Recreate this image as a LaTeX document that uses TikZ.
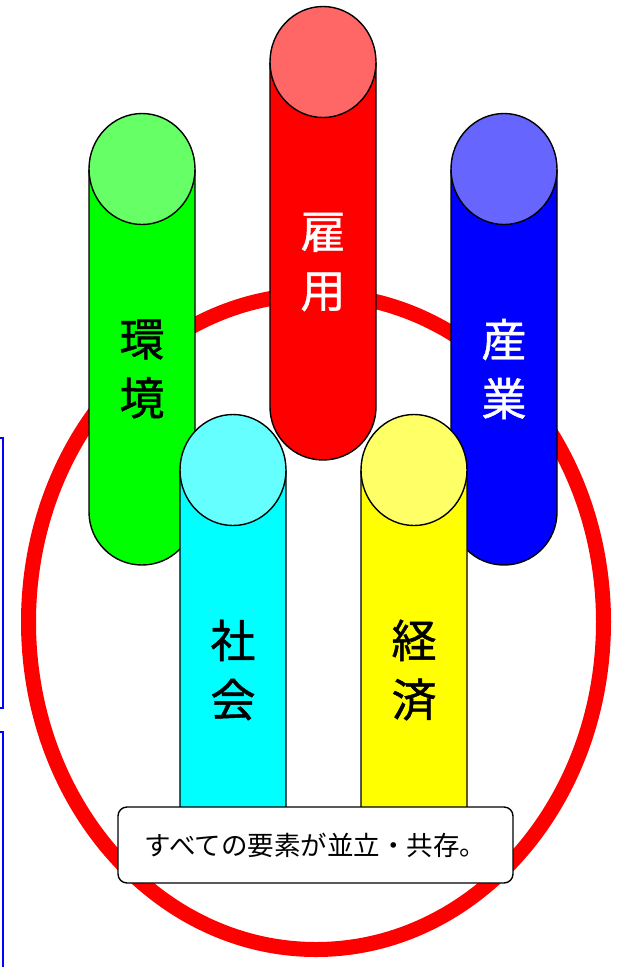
\documentclass[tikz,border=0pt]{standalone}
\usepackage{fontspec}
\setmainfont{Noto Sans CJK JP}
\newfontfamily\lblfont[FakeBold=1]{Noto Sans CJK JP}
\definecolor{cR}{HTML}{FF0000}\definecolor{tR}{HTML}{FF6666}
\definecolor{cG}{HTML}{00FF00}\definecolor{tG}{HTML}{66FF66}
\definecolor{cB}{HTML}{0000FF}\definecolor{tB}{HTML}{6666FF}
\definecolor{cC}{HTML}{00FFFF}\definecolor{tC}{HTML}{66FFFF}
\definecolor{cY}{HTML}{FFFF00}\definecolor{tY}{HTML}{FFFF66}
\newcommand{\cyl}[5]{% cx, top y, bottom y, body color, top color
  \draw[cylline,fill=#4] (#1-53,#2) -- (#1-53,#3-53) arc[start angle=180,end angle=0,radius=53] -- (#1+53,#2);
  \draw[cylline,fill=#5] (#1,#2) ellipse[x radius=53,y radius=55.5];
}
\begin{document}
\begin{tikzpicture}[x=1pt,y=-1pt,
  cylline/.style={draw=black,line width=1.4pt},
  lbl/.style={font=\lblfont\fontsize{45}{59}\selectfont,align=center,inner sep=0pt},
  framebox/.style={draw=cB,line width=2pt}]
\useasboundingbox (0,0) rectangle (617,967);
\clip (0,0) rectangle (617,967);
% partial frames at left edge
\draw[framebox] (-20,438) rectangle (2.5,708);
\draw[framebox] (-20,732) rectangle (2.5,1000);
% ring
\draw[cR,line width=15pt] (316,622) ellipse[x radius=287.5,y radius=327.5];
% cylinders
\cyl{142}{169}{565}{cG}{tG}
\cyl{504}{169}{565}{cB}{tB}
\cyl{323}{62}{460}{cR}{tR}
\cyl{233}{470}{865}{cC}{tC}
\cyl{414}{470}{865}{cY}{tY}
% labels
\node[lbl,text=white] (koyo) at (323,262) {雇\\用};
\node[lbl,text=black] (kankyo) at (142,369) {環\\境};
\node[lbl,text=white] (sangyo) at (504,369) {産\\業};
\node[lbl,text=black] (shakai) at (233,670) {社\\会};
\node[lbl,text=black] (keizai) at (414,670) {経\\済};
% caption box
\node[draw=black,line width=1.4pt,fill=white,rounded corners=9pt,minimum width=395pt,minimum height=76pt,inner sep=0pt,font=\fontsize{26.5}{30}\selectfont] (msg) at (315.5,845) {すべての要素が並立・共存。};
\end{tikzpicture}
\end{document}
